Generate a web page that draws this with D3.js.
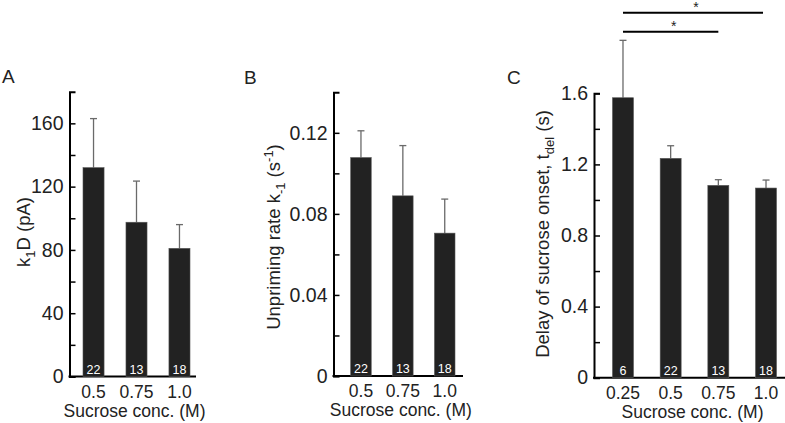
<!DOCTYPE html>
<html>
<head>
<meta charset="utf-8">
<script src="https://cdn.jsdelivr.net/npm/d3@7"></script>
<style>
  body { margin: 0; background: #fff; }
  svg { display: block; font-family: Arial, "Liberation Sans", sans-serif; }
</style>
</head>
<body>
<div id="canvas"></div>
<script>
// panel A: k1D (pA)
const concA = ['0.5', '0.75', '1.0'];
const meanA = [132, 97.5, 81];
const errA = [31, 26, 15];
const nA = [22, 13, 18];
const ticksA = [0, 40, 80, 120, 160];
const minorA = [20, 60, 100, 140];

// panel B: unpriming rate
const concB = ['0.5', '0.75', '1.0'];
const meanB = [0.1078, 0.0889, 0.0705];
const errB = [0.0132, 0.0248, 0.0168];
const nB = [22, 13, 18];
const ticksB = [0, 0.04, 0.08, 0.12];
const minorB = [0.02, 0.06, 0.10];

// panel C: delay of onset
const concC = ['0.25', '0.5', '0.75', '1.0'];
const meanC = [1.575, 1.234, 1.082, 1.067];
const errC = [0.323, 0.071, 0.032, 0.045];
const nC = [6, 22, 13, 18];
const ticksC = [0, 0.4, 0.8, 1.2, 1.6];
const minorC = [0.2, 0.6, 1.0, 1.4];
const sigC = [['0.25', '1.0'], ['0.25', '0.75']];

const svg = d3.select("#canvas").append("svg")
    .attr("width", 785)
    .attr("height", 423)

function panel(p) {
  const g = svg.append("g")
  const y = d3.scaleLinear().domain([0, p.ymax]).range([p.y0, p.top])
  const x = d3.scaleBand().domain(p.cats).range(p.bars).paddingInner(p.pad).paddingOuter(0)

  // y axis, ticks pointing inward
  g.append("g")
    .attr("transform", `translate(${p.left},0)`)
    .call(d3.axisLeft(y).tickValues(p.ticks).tickFormat(p.fmt)
      .tickSizeInner(-6).tickSizeOuter(-6).tickPadding(6))
    .call(a => a.select(".domain").attr("stroke-width", 2))
    .call(a => a.selectAll(".tick line").attr("stroke-width", 1.5))
    .call(a => a.selectAll("text").attr("font-size", 19.5).attr("fill", "#222")
      .attr("font-family", "Arial, 'Liberation Sans', sans-serif"))

  g.append("g")
    .attr("transform", `translate(${p.left},0)`)
    .call(d3.axisLeft(y).tickValues(p.minor).tickFormat("").tickSizeInner(-6).tickSizeOuter(0))
    .call(a => a.select(".domain").remove())
    .call(a => a.selectAll(".tick line").attr("stroke-width", 1.5))

  // baseline
  g.append("line")
    .attr("x1", p.left - 1).attr("x2", p.baseEnd)
    .attr("y1", y(0)).attr("y2", y(0))
    .attr("stroke", "#000").attr("stroke-width", 2)

  // error bars
  const eb = g.selectAll(".err").data(p.cats).enter().append("g")
  eb.append("line")
    .attr("x1", d => x(d) + x.bandwidth() / 2).attr("x2", d => x(d) + x.bandwidth() / 2)
    .attr("y1", (d, i) => y(p.mean[i])).attr("y2", (d, i) => y(p.mean[i] + p.err[i]))
    .attr("stroke", "#6a6a6a").attr("stroke-width", 1.3)
  eb.append("line")
    .attr("x1", d => x(d) + x.bandwidth() / 2 - 3.5).attr("x2", d => x(d) + x.bandwidth() / 2 + 3.5)
    .attr("y1", (d, i) => y(p.mean[i] + p.err[i])).attr("y2", (d, i) => y(p.mean[i] + p.err[i]))
    .attr("stroke", "#6a6a6a").attr("stroke-width", 1.3)

  // bars
  g.selectAll(".bar").data(p.cats).enter().append("rect")
    .attr("x", d => x(d)).attr("width", x.bandwidth())
    .attr("y", (d, i) => y(p.mean[i]))
    .attr("height", (d, i) => y(0) - y(p.mean[i]))
    .attr("fill", "#222").attr("stroke", "#555").attr("stroke-width", 0.6)

  // n inside bars
  g.selectAll(".n").data(p.cats).enter().append("text")
    .attr("x", d => x(d) + x.bandwidth() / 2)
    .attr("y", y(0) - 3)
    .attr("text-anchor", "middle").attr("font-size", 12.5).attr("fill", "#fff")
    .text((d, i) => p.n[i])

  // x tick labels
  g.append("g")
    .attr("transform", `translate(0,${y(0)})`)
    .call(d3.axisBottom(x).tickSize(0).tickPadding(0))
    .call(a => a.select(".domain").remove())
    .call(a => a.selectAll("text").attr("y", 21).attr("dy", 0)
      .attr("font-size", 17.5).attr("fill", "#222")
      .attr("font-family", "Arial, 'Liberation Sans', sans-serif"))

  g.append("text")
    .attr("x", (p.bars[0] + p.bars[1]) / 2 - 2).attr("y", y(0) + 40)
    .attr("text-anchor", "middle").attr("font-size", 17.5).attr("fill", "#222")
    .text("Sucrose conc. (M)")

  // y title
  const t = g.append("text")
    .attr("transform", `translate(${p.titleX},${p.titleY}) rotate(-90)`)
    .attr("text-anchor", "middle").attr("font-size", 18.5).attr("fill", "#222")
  p.title.forEach(s => {
    const ts = t.append("tspan").text(s.t)
    if (s.k === "sub") ts.attr("font-size", 13).attr("dy", 5)
    if (s.k === "sup") ts.attr("font-size", 13).attr("dy", -7)
    if (s.k === "back") ts.attr("dy", -5)
    if (s.k === "down") ts.attr("dy", 7)
  })

  g.append("text")
    .attr("x", p.letter[0]).attr("y", p.letter[1])
    .attr("font-size", 19).attr("fill", "#222")
    .text(p.name)

  return { x, y, g }
}

panel({
  name: "A", cats: concA, mean: meanA, err: errA, n: nA, ticks: ticksA, minor: minorA,
  ymax: 180, fmt: d3.format("d"), left: 69.5, y0: 376.5, top: 91.7,
  bars: [83, 190], pad: 0.51, baseEnd: 196,
  titleX: 30, titleY: 232, letter: [2, 83],
  title: [{ t: "k" }, { t: "1", k: "sub" }, { t: "D (pA)", k: "back" }]
})

panel({
  name: "B", cats: concB, mean: meanB, err: errB, n: nB, ticks: ticksB, minor: minorB,
  ymax: 0.14, fmt: d => d === 0 ? "0" : d3.format(".2f")(d), left: 333.5, y0: 376, top: 92.3,
  bars: [350.7, 455], pad: 0.51, baseEnd: 463,
  titleX: 280, titleY: 237, letter: [244, 84],
  title: [{ t: "Unpriming rate k" }, { t: "-1", k: "sub" }, { t: " (s", k: "back" },
          { t: "-1", k: "sup" }, { t: ")", k: "down" }]
})

const c = panel({
  name: "C", cats: concC, mean: meanC, err: errC, n: nC, ticks: ticksC, minor: minorC,
  ymax: 1.6, fmt: d => d === 0 ? "0" : d3.format(".1f")(d), left: 594, y0: 377.7, top: 93.3,
  bars: [612.5, 776.5], pad: 0.56, baseEnd: 785,
  titleX: 549, titleY: 234, letter: [507, 84],
  title: [{ t: "Delay of sucrose onset, t" }, { t: "del", k: "sub" }, { t: " (s)", k: "back" }]
})

// significance brackets in C
const sigY = [12.7, 31.7]
sigC.forEach((pair, i) => {
  const x1 = c.x(pair[0]) + c.x.bandwidth() / 2
  const x2 = c.x(pair[1]) + c.x.bandwidth() / 2 - (i === 0 ? 3 : 0)
  c.g.append("line")
    .attr("x1", x1).attr("x2", x2).attr("y1", sigY[i]).attr("y2", sigY[i])
    .attr("stroke", "#000").attr("stroke-width", 2)
  c.g.append("text")
    .attr("x", (x1 + x2) / 2 + 3).attr("y", sigY[i] - 1)
    .attr("text-anchor", "middle").attr("font-size", 14).attr("fill", "#222")
    .text("*")
})
</script>
</body>
</html>
